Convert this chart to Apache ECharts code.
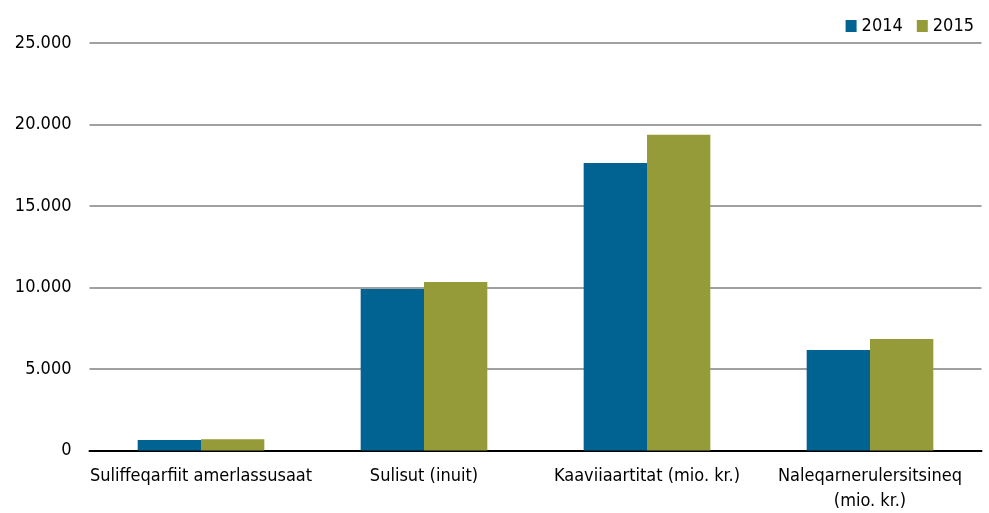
<!DOCTYPE html>
<html><head><meta charset="utf-8">
<script src="https://cdn.jsdelivr.net/npm/echarts@6/dist/echarts.min.js"></script>
<style>html,body{margin:0;padding:0;background:#fff}#c{width:989px;height:513px}</style>
</head><body><div id="c"></div>
<script>
const categories = ['Suliffeqarfiit amerlassusaat', 'Sulisut (inuit)', 'Kaaviiaartitat (mio. kr.)', 'Naleqarnerulersitsineq\n(mio. kr.)'];
const values2014 = [650, 9910, 17640, 6170];
const values2015 = [690, 10340, 19370, 6840];
const yTicks = [0, 5000, 10000, 15000, 20000, 25000];
const FONT = '"DejaVu Sans Condensed", "Liberation Sans Narrow", sans-serif';
const chart = echarts.init(document.getElementById('c'));
chart.setOption({
  animation: false,
  textStyle: {fontFamily: FONT},
  legend: {
    top: 12, right: 10, icon: 'rect', itemWidth: 11, itemHeight: 12, itemGap: 14,
    textStyle: {fontFamily: FONT, fontSize: 18, color: '#000'},
    data: ['2014', '2015']
  },
  grid: {left: 89.5, right: 7.5, top: 43, bottom: 62.5, containLabel: false, outerBoundsMode: 'none'},
  xAxis: {
    type: 'category', data: categories,
    axisLine: {lineStyle: {color: '#000', width: 2}},
    axisTick: {show: false},
    axisLabel: {fontFamily: FONT, fontSize: 18, color: '#000', margin: 13, lineHeight: 25, interval: 0}
  },
  yAxis: {
    type: 'value', min: yTicks[0], max: yTicks[yTicks.length - 1], interval: 5000,
    axisLine: {show: false}, axisTick: {show: false},
    splitLine: {lineStyle: {color: '#a0a0a0', width: 2}},
    axisLabel: {fontFamily: FONT, fontSize: 18, color: '#000', margin: 18,
      formatter: v => v === 0 ? '0' : v.toLocaleString('de-DE')}
  },
  series: [
    {name: '2014', type: 'bar', data: values2014, barWidth: '28.4%', barGap: '0%', itemStyle: {color: '#006391'}},
    {name: '2015', type: 'bar', data: values2015, barWidth: '28.4%', barGap: '0%', itemStyle: {color: '#969b39'}}
  ]
});
</script></body></html>
